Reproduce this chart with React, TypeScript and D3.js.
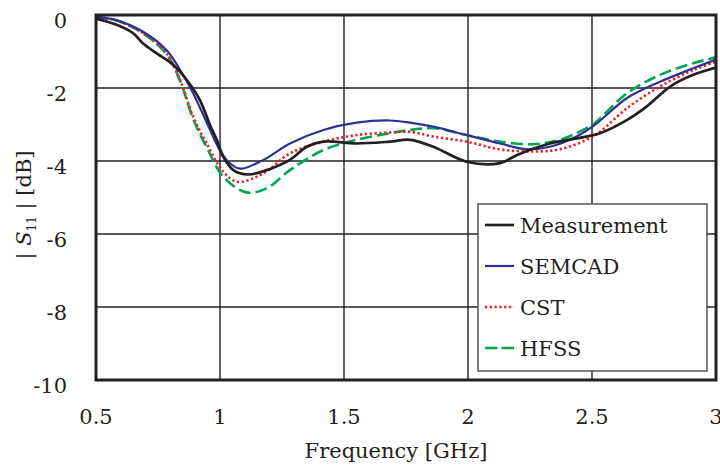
import React from "react";
import * as d3 from "d3";

const xTicks = [0.5, 1, 1.5, 2, 2.5, 3];
const yTicks = [0, -2, -4, -6, -8, -10];

const measF = [0.5, 0.583, 0.65, 0.69, 0.745, 0.812, 0.866, 0.919, 0.96, 0.987, 1.013, 1.054, 1.112, 1.188, 1.282, 1.35, 1.417, 1.55, 1.685, 1.766, 1.86, 1.995, 2.129, 2.196, 2.33, 2.438, 2.532, 2.64, 2.72, 2.815, 2.908, 3.0];
const measV = [-0.1, -0.27, -0.5, -0.78, -1.05, -1.37, -1.78, -2.33, -3.02, -3.42, -3.88, -4.25, -4.37, -4.25, -3.97, -3.61, -3.47, -3.52, -3.47, -3.42, -3.61, -4.02, -4.06, -3.84, -3.52, -3.38, -3.24, -2.88, -2.51, -1.96, -1.64, -1.44];

const semF = [0.5, 0.583, 0.69, 0.784, 0.839, 0.892, 0.96, 0.987, 1.03, 1.08, 1.175, 1.282, 1.417, 1.55, 1.685, 1.766, 1.86, 1.995, 2.129, 2.237, 2.33, 2.438, 2.519, 2.64, 2.774, 2.908, 3.0];
const semV = [-0.05, -0.14, -0.46, -0.96, -1.5, -2.15, -3.15, -3.55, -4.0, -4.21, -3.97, -3.52, -3.15, -2.95, -2.89, -2.95, -3.06, -3.29, -3.52, -3.68, -3.61, -3.33, -2.97, -2.28, -1.83, -1.46, -1.22];

const cstF = [0.5, 0.583, 0.69, 0.784, 0.839, 0.892, 0.946, 1.013, 1.07, 1.175, 1.282, 1.417, 1.55, 1.685, 1.766, 1.86, 1.995, 2.129, 2.263, 2.37, 2.478, 2.532, 2.64, 2.774, 2.908, 3.0];
const cstV = [-0.05, -0.15, -0.5, -1.05, -1.78, -2.79, -3.52, -4.29, -4.57, -4.34, -3.79, -3.47, -3.29, -3.22, -3.2, -3.33, -3.47, -3.68, -3.74, -3.68, -3.42, -3.2, -2.56, -1.96, -1.51, -1.28];

const hfssF = [0.5, 0.583, 0.69, 0.784, 0.839, 0.892, 0.946, 1.013, 1.105, 1.188, 1.282, 1.417, 1.55, 1.685, 1.766, 1.86, 1.995, 2.129, 2.263, 2.37, 2.478, 2.505, 2.64, 2.774, 2.908, 3.0];
const hfssV = [-0.05, -0.15, -0.5, -1.07, -1.8, -2.85, -3.62, -4.43, -4.86, -4.75, -4.25, -3.7, -3.42, -3.24, -3.15, -3.1, -3.29, -3.47, -3.54, -3.42, -3.1, -3.0, -2.15, -1.64, -1.32, -1.16];

const seriesNames = ["Measurement", "SEMCAD", "CST", "HFSS"];

const W = 720, H = 469;
const L = 96, R = 716, T = 15, B = 380;
const FONT = "'DejaVu Serif', serif";

export default function App() {
  const x = d3.scaleLinear().domain([0.5, 3]).range([L, R]);
  const y = d3.scaleLinear().domain([-10, 0]).range([B, T]);
  const line = d3.line<[number, number]>().x(d => x(d[0])).y(d => y(d[1])).curve(d3.curveCatmullRom.alpha(0.5));
  const zip = (a: number[], b: number[]) => a.map((v, i) => [v, b[i]] as [number, number]);

  const series = [
    { name: seriesNames[0], d: zip(measF, measV), color: "#231f20", dash: undefined as string | undefined, w: 2.7 },
    { name: seriesNames[1], d: zip(semF, semV), color: "#2e3192", dash: undefined, w: 2.2 },
    { name: seriesNames[2], d: zip(cstF, cstV), color: "#ed1c24", dash: "2.2 2.6", w: 2.6 },
    { name: seriesNames[3], d: zip(hfssF, hfssV), color: "#00a651", dash: "12 5", w: 2.6 },
  ];
  const drawOrder = [3, 2, 1, 0];

  return (
    <svg width={W} height={H} style={{ position: "absolute", left: 0, top: 0, background: "#fff" }} fontFamily={FONT}>
      <rect x={0} y={0} width={W} height={H} fill="#fff" />
      {xTicks.slice(1, -1).map(t => (
        <line key={"gx" + t} x1={x(t)} x2={x(t)} y1={T} y2={B} stroke="#231f20" strokeWidth={1.4} />
      ))}
      {yTicks.slice(1, -1).map(t => (
        <line key={"gy" + t} x1={L} x2={R} y1={y(t)} y2={y(t)} stroke="#231f20" strokeWidth={1.4} />
      ))}
      <clipPath id="clip"><rect x={L} y={T - 3} width={R - L} height={B - T + 3} /></clipPath>
      <g clipPath="url(#clip)">
        {drawOrder.map(i => {
          const s = series[i];
          return <path key={s.name} d={line(s.d) || ""} fill="none" stroke={s.color} strokeWidth={s.w} strokeDasharray={s.dash} strokeLinejoin="round" />;
        })}
      </g>
      <rect x={L} y={T} width={R - L} height={B - T} fill="none" stroke="#231f20" strokeWidth={3} />
      {xTicks.map(t => (
        <text key={"tx" + t} x={x(t)} y={424} textAnchor="middle" fontSize={21} fill="#231f20">{t}</text>
      ))}
      {yTicks.map(t => (
        <text key={"ty" + t} x={67} y={y(t) + 12.5} textAnchor="end" fontSize={21} fill="#231f20">{t}</text>
      ))}
      <text x={396} y={458} textAnchor="middle" fontSize={21} fill="#231f20">Frequency [GHz]</text>
      <text transform="translate(31,205) rotate(-90)" textAnchor="middle" fontSize={21} fill="#231f20">
        <tspan>| </tspan>
        <tspan fontStyle="italic">S</tspan>
        <tspan fontSize={12} dy={5}>11</tspan>
        <tspan dy={-5}> | [dB]</tspan>
      </text>
      <rect x={478} y={204} width={229} height={167} fill="#fff" stroke="#555" strokeWidth={1.5} />
      {series.map((s, i) => {
        const ly = 225 + i * 41;
        return (
          <g key={"lg" + s.name}>
            <line x1={485} x2={514} y1={ly} y2={ly} stroke={s.color} strokeWidth={s.w} strokeDasharray={i === 3 ? "12.5 4" : s.dash} />
            <text x={520} y={ly + 8} fontSize={21} fill="#231f20">{s.name}</text>
          </g>
        );
      })}
    </svg>
  );
}
